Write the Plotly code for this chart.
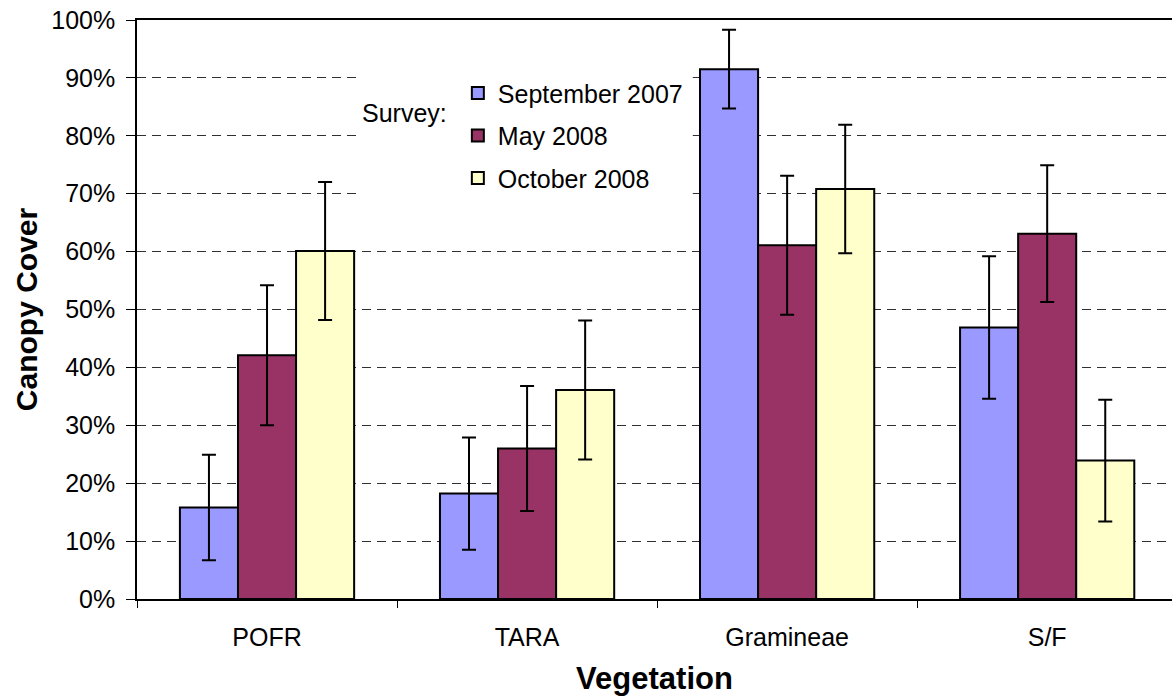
import plotly.graph_objects as go

categories = ["POFR", "TARA", "Gramineae", "S/F"]
surveys = ["September 2007", "May 2008", "October 2008"]

sep_2007 = [0.158, 0.182, 0.915, 0.469]
may_2008 = [0.421, 0.260, 0.611, 0.631]
oct_2008 = [0.601, 0.361, 0.708, 0.239]

sep_2007_err = [0.091, 0.097, 0.068, 0.123]
may_2008_err = [0.121, 0.108, 0.120, 0.118]
oct_2008_err = [0.119, 0.120, 0.111, 0.105]

y_ticks = [i / 10 for i in range(11)]

COLORS = ["#9999FF", "#993366", "#FFFFCC"]
FONT = "Liberation Sans, Arial, sans-serif"

fig = go.Figure()
for name, vals, errs, col in zip(surveys, [sep_2007, may_2008, oct_2008],
                                 [sep_2007_err, may_2008_err, oct_2008_err], COLORS):
    fig.add_trace(go.Bar(
        x=categories, y=vals, name=name, legendgroup=name,
        marker=dict(color=col, line=dict(color="black", width=2)),
        error_y=dict(type="data", array=errs, color="black", thickness=2, width=7),
    ))

# white box behind the legend hides the gridlines, like the Excel original
fig.add_shape(type="rect", xref="paper", yref="paper",
              x0=0.2116, x1=0.537, y0=0.645, y1=0.965,
              fillcolor="white", line_width=0, layer="above")

fig.add_annotation(text="Survey:", xref="paper", yref="paper",
                   x=0.215, y=0.839, xanchor="left", yanchor="middle",
                   showarrow=False, font=dict(size=25, color="black", family=FONT))

fig.update_layout(
    width=1172, height=696,
    margin=dict(l=137, r=0, t=20, b=97),
    paper_bgcolor="white", plot_bgcolor="white",
    font=dict(family=FONT, size=25, color="black"),
    barmode="group", bargap=0.33, bargroupgap=0,
    showlegend=True,
    legend=dict(x=0.31, y=0.913, xanchor="left", yanchor="top",
                bgcolor="white", borderwidth=0, tracegroupgap=7,
                font=dict(size=25, color="black")),
    xaxis=dict(
        range=[-0.5, 3.48], tickson="boundaries", ticks="outside", ticklen=7,
        tickcolor="black", showline=True, linecolor="black", linewidth=1.5,
        mirror=True, showgrid=False, ticklabelstandoff=15, automargin=False,
        title=dict(text="<b>Vegetation</b>", font=dict(size=31), standoff=20),
    ),
    yaxis=dict(
        range=[0, 1], tickvals=y_ticks, tickformat=".0%", ticks="outside",
        ticklen=9, tickcolor="black", showline=True, linecolor="black",
        linewidth=1.5, showgrid=True, gridcolor="#303030", gridwidth=1,
        griddash="9px,6px", zeroline=False, ticklabelstandoff=6, automargin=False,
        title=dict(text="<b>Canopy Cover</b>", font=dict(size=30), standoff=5),
    ),
)

# the page body has a default 8px margin; drop it so the figure fills the window
fig.write_html("out.html", config={"displayModeBar": False},
               post_script="document.body.style.margin='0';")
